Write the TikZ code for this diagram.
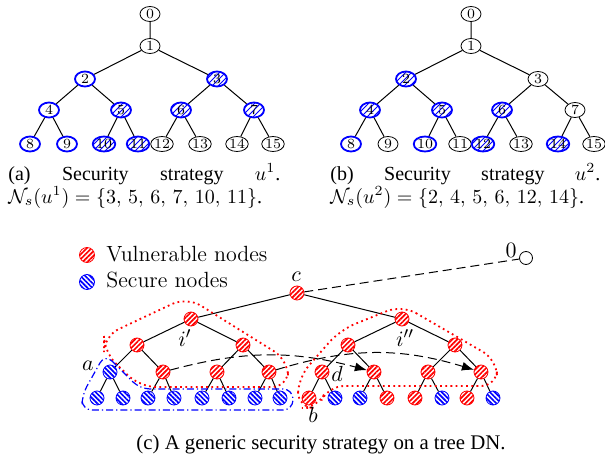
\documentclass[tikz,border=0pt]{standalone}
\usepackage{fontspec}
\usepackage{amsmath}
\usetikzlibrary{shapes.geometric,patterns,patterns.meta,arrows.meta}
\newfontfamily\capfont{Liberation Serif}

\begin{document}
\begin{tikzpicture}[x=0.5pt,y=-0.5pt,
  every node/.style={inner sep=0pt},
  tnode/.style={ellipse,draw,minimum width=10pt,minimum height=7.5pt,font=\scriptsize},
  guard/.style={tnode,draw=blue,line width=0.9pt},
  hatched/.style={guard,pattern=north east lines,pattern color=blue},
  vuln/.style={circle,draw=red,minimum size=7pt,pattern={Lines[angle=45,distance=1.7pt,line width=0.85pt]},pattern color=red},
  secure/.style={circle,draw=blue,minimum size=7pt,pattern={Lines[angle=-45,distance=1.7pt,line width=0.85pt]},pattern color=blue},
  lbl/.style={font=\fontsize{11}{13}\selectfont},
  captext/.style={font=\capfont\fontsize{10.4}{12}\selectfont},
  subcap/.style={font=\capfont\fontsize{10}{12}\selectfont,anchor=base west},
  edge/.style={line width=0.5pt},
  dashline/.style={line width=0.5pt,dash pattern=on 4.5pt off 2.5pt},
  redzone/.style={red,line width=0.9pt,dash pattern=on 0.9pt off 1.7pt,rounded corners=8pt},
  bluezone/.style={blue,line width=0.6pt,dash pattern=on 3.5pt off 1.5pt on 0.6pt off 1.5pt,rounded corners=5pt}]

\useasboundingbox (0,0) rectangle (605,460);

% (a) strategy u^1
\node[tnode] (a0) at (150,14) {0};
\node[tnode] (a1) at (150,46) {1};
\node[guard] (a2) at (85,79) {2};
\node[hatched] (a3) at (217,79) {3};
\node[guard] (a4) at (49,110) {4};
\node[hatched] (a5) at (121,110) {5};
\node[hatched] (a6) at (181,110) {6};
\node[hatched] (a7) at (254,110) {7};
\node[guard] (a8) at (30,144) {8};
\node[guard] (a9) at (67,144) {9};
\node[hatched] (a10) at (104,144) {10};
\node[hatched] (a11) at (138,144) {11};
\node[tnode] (a12) at (162,144) {12};
\node[tnode] (a13) at (200,144) {13};
\node[tnode] (a14) at (237,144) {14};
\node[tnode] (a15) at (273,144) {15};
\draw[edge] (a0) -- (a1) (a1) -- (a2) (a1) -- (a3) (a2) -- (a4) (a2) -- (a5)
  (a3) -- (a6) (a3) -- (a7) (a4) -- (a8) (a4) -- (a9) (a5) -- (a10) (a5) -- (a11)
  (a6) -- (a12) (a6) -- (a13) (a7) -- (a14) (a7) -- (a15);

% (b) strategy u^2
\node[tnode] (b0) at (471,14) {0};
\node[tnode] (b1) at (471,46) {1};
\node[hatched] (b2) at (406,79) {2};
\node[tnode] (b3) at (538,79) {3};
\node[hatched] (b4) at (370,110) {4};
\node[hatched] (b5) at (442,110) {5};
\node[hatched] (b6) at (502,110) {6};
\node[tnode] (b7) at (575,110) {7};
\node[guard] (b8) at (351,144) {8};
\node[tnode] (b9) at (388,144) {9};
\node[guard] (b10) at (425,144) {10};
\node[tnode] (b11) at (460,144) {11};
\node[hatched] (b12) at (483,144) {12};
\node[tnode] (b13) at (521,144) {13};
\node[hatched] (b14) at (558,144) {14};
\node[tnode] (b15) at (594,144) {15};
\draw[edge] (b0) -- (b1) (b1) -- (b2) (b1) -- (b3) (b2) -- (b4) (b2) -- (b5)
  (b3) -- (b6) (b3) -- (b7) (b4) -- (b8) (b4) -- (b9) (b5) -- (b10) (b5) -- (b11)
  (b6) -- (b12) (b6) -- (b13) (b7) -- (b14) (b7) -- (b15);

% captions (a), (b)
\node[subcap] (capa) at (8,180) {\makebox[136pt]{(a)\hfill Security\hfill strategy\hfill $u^1$.}};
\node[subcap] (capa2) at (8,203) {$\mathcal{N}_s(u^1)=\{3,\,5,\,6,\,7,\,10,\,11\}$.};
\node[subcap] (capb) at (330,180) {\makebox[135pt]{(b)\hfill Security\hfill strategy\hfill $u^2$.}};
\node[subcap] (capb2) at (330,203) {$\mathcal{N}_s(u^2)=\{2,\,4,\,5,\,6,\,12,\,14\}$.};

% legend
\node[vuln,minimum size=7.5pt] (legv) at (87,255) {};
\node[lbl,anchor=base west] (legvt) at (106,261) {Vulnerable nodes};
\node[secure,minimum size=7.5pt] (legs) at (87,282) {};
\node[lbl,anchor=base west] (legst) at (106,287) {Secure nodes};

% (c) generic tree
\node[circle,draw,minimum size=6.5pt] (root) at (526,258) {};
\node[vuln] (c) at (297,293) {};
\node[vuln] (ip) at (191,319) {};
\node[vuln] (ipp) at (402,319) {};
\node[vuln] (l1) at (137,345) {};
\node[vuln] (l2) at (243,345) {};
\node[vuln] (r1) at (348,345) {};
\node[vuln] (r2) at (455,345) {};
\node[secure] (l11) at (110,372) {};
\node[vuln] (l12) at (163,372) {};
\node[vuln] (l21) at (217,372) {};
\node[vuln] (l22) at (269,372) {};
\node[vuln] (r11) at (322,372) {};
\node[vuln] (r12) at (374,372) {};
\node[vuln] (r21) at (428,372) {};
\node[vuln] (r22) at (481,372) {};
\node[secure] (f1) at (97,398) {};
\node[secure] (f2) at (123,398) {};
\node[secure] (f3) at (148,398) {};
\node[secure] (f4) at (174,398) {};
\node[secure] (f5) at (202,398) {};
\node[secure] (f6) at (229,398) {};
\node[secure] (f7) at (255,398) {};
\node[secure] (f8) at (280,398) {};
\node[vuln] (g1) at (309,398) {};
\node[secure] (g2) at (335,398) {};
\node[secure] (g3) at (360,398) {};
\node[vuln] (g4) at (387,398) {};
\node[vuln] (g5) at (415,398) {};
\node[secure] (g6) at (442,398) {};
\node[vuln] (g7) at (467,398) {};
\node[secure] (g8) at (493,398) {};

\draw[edge] (c) -- (ip) (c) -- (ipp) (ip) -- (l1) (ip) -- (l2) (ipp) -- (r1) (ipp) -- (r2)
  (l1) -- (l11) (l1) -- (l12) (l2) -- (l21) (l2) -- (l22)
  (r1) -- (r11) (r1) -- (r12) (r2) -- (r21) (r2) -- (r22)
  (l11) -- (f1) (l11) -- (f2) (l12) -- (f3) (l12) -- (f4)
  (l21) -- (f5) (l21) -- (f6) (l22) -- (f7) (l22) -- (f8)
  (r11) -- (g1) (r11) -- (g2) (r12) -- (g3) (r12) -- (g4)
  (r21) -- (g5) (r21) -- (g6) (r22) -- (g7) (r22) -- (g8);
\draw[dashline] (c) -- (root);
\draw[dashline,-{Latex[length=6pt,width=4.5pt]}] (l12) to[bend left=15] (r12);
\draw[dashline,-{Latex[length=6pt,width=4.5pt]}] (l22) to[bend left=17] (r22);

% regions
\draw[redzone] (104,352) -- (104,336) -- (187,297) -- (288,360) -- (288,387) -- (140,387) -- cycle;
\draw[redzone] (402,305) -- (497,360) -- (497,386) -- (328,386) -- (318,408) -- (298,408) -- (298,378) -- (340,330) -- cycle;
\draw[bluezone] (105,354) -- (140,389) -- (293,389) -- (293,410) -- (82,410) -- (82,395) -- cycle;

% labels
\node[lbl] (labc) at (296,277) {$c$};
\node[lbl] (labip) at (185,338) {$i'$};
\node[lbl] (labipp) at (405,338) {$i''$};
\node[lbl] (laba) at (88,366) {$a$};
\node[lbl] (labb) at (313,415) {$b$};
\node[lbl] (labd) at (337,374) {$d$};
\node[lbl] (labo) at (511,250) {$0$};

% caption (c)
\node[captext,anchor=base] (capc) at (321,449) {(c) A generic security strategy on a tree DN.};
\end{tikzpicture}
\end{document}
